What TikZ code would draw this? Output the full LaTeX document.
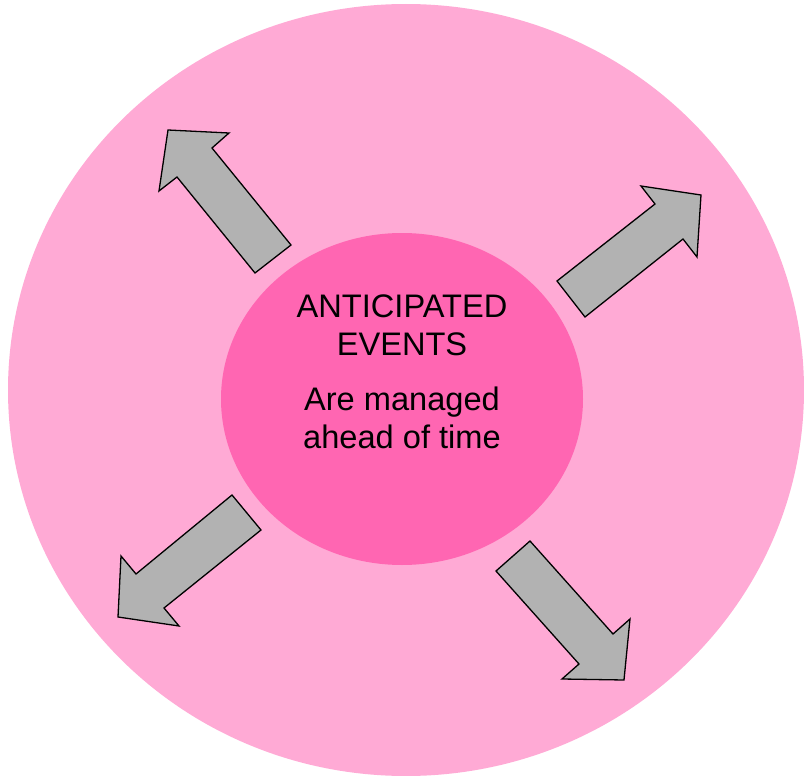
\documentclass[tikz,border=0pt]{standalone}
\usepackage{fontspec}
\setmainfont{Liberation Sans}
\usepackage{xcolor}
\usetikzlibrary{positioning}
\definecolor{outerpink}{HTML}{FFAAD5}
\definecolor{innerpink}{HTML}{FF66B2}
\definecolor{arrowgray}{HTML}{B2B2B2}
\tikzset{
  blockarrow/.style={draw=black, fill=arrowgray, line width=1.3pt, line join=miter},
  eventtext/.style={font=\fontsize{32.6}{38}\selectfont, align=center, inner sep=0pt, anchor=north}
}

\begin{document}
\begin{tikzpicture}[x=1pt, y=-1pt]
    \useasboundingbox (0,0) rectangle (804,776);

    % Outer and inner rings
    \fill[outerpink] (406,390) ellipse [x radius=398, y radius=386];
    \fill[innerpink] (402,399) ellipse [x radius=181, y radius=166];

    % Centre labels
    \node[eventtext] (title) at (402,295) {ANTICIPATED\\EVENTS};
    \node[eventtext] (note) at (402,387) {Are managed\\ahead of time};

    % Upper left arrow
    \draw[blockarrow] (168,130) -- (229,133) -- (212,148) -- (291,245)
      -- (255,273) -- (177,177) -- (159,191) -- cycle;

    % Upper right arrow
    \draw[blockarrow] (701,195) -- (697,257) -- (683,239) -- (585,317)
      -- (557,281) -- (655,204) -- (641,186) -- cycle;

    % Lower left arrow
    \draw[blockarrow] (118,617) -- (121,556) -- (136,574) -- (232,495)
      -- (261,530) -- (164,608) -- (179,626) -- cycle;

    % Lower right arrow
    \draw[blockarrow] (624,680) -- (562,679) -- (579,664) -- (496,571)
      -- (530,541) -- (613,634) -- (630,619) -- cycle;
\end{tikzpicture}
\end{document}
